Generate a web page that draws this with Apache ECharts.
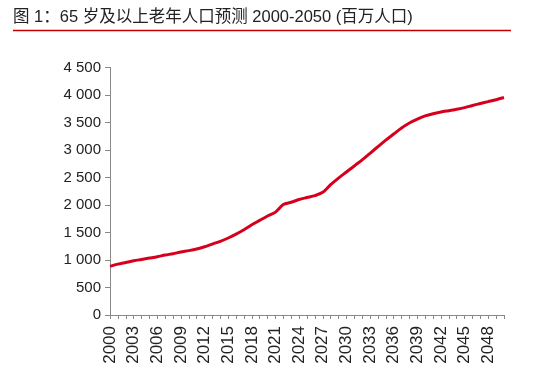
<!DOCTYPE html>
<html>
<head>
<meta charset="utf-8">
<script src="https://cdn.jsdelivr.net/npm/echarts@6/dist/echarts.min.js"></script>
<style>html,body{margin:0;padding:0;background:#fff}#c{width:560px;height:374px}</style>
</head>
<body>
<div id="c"></div>
<script>
var years = [];
for (var y = 2000; y <= 2050; y++) years.push(String(y));
var population = [
  885, 925, 955, 985, 1010, 1035, 1060, 1090, 1115, 1145,
  1170, 1200, 1240, 1290, 1340, 1400, 1470, 1550, 1640, 1720,
  1800, 1870, 2010, 2050, 2100, 2135, 2170, 2230, 2370, 2490,
  2600, 2710, 2820, 2940, 3060, 3180, 3290, 3400, 3490, 3560,
  3620, 3660, 3690, 3715, 3740, 3770, 3810, 3845, 3880, 3915,
  3955
];
var titleText = '图 1：65 岁及以上老年人口预测 2000-2050 (百万人口)';

var chart = echarts.init(document.getElementById('c'));
chart.setOption({
  animation: false,
  graphic: [
    { type: 'text', left: 13, top: 9, style: { text: titleText, font: '16.5px "Liberation Sans", "Noto Sans CJK SC", sans-serif', fill: '#222' } },
    { type: 'line', shape: { x1: 13, y1: 30.5, x2: 511, y2: 30.5 }, style: { stroke: '#c00000', lineWidth: 1.5 } }
  ],
  grid: { left: 110, right: 56, top: 67.5, bottom: 59 },
  xAxis: {
    type: 'category',
    data: years,
    boundaryGap: false,
    axisLine: { lineStyle: { color: '#888', width: 1 } },
    axisTick: { interval: 0, length: 4, lineStyle: { color: '#888' } },
    axisLabel: { interval: 2, rotate: 90, color: '#222', fontSize: 17, fontFamily: 'Liberation Sans', margin: 11 }
  },
  yAxis: {
    type: 'value',
    min: 0, max: 4500, interval: 500,
    axisLine: { show: true, lineStyle: { color: '#888', width: 1 } },
    axisTick: { show: true, length: 5, lineStyle: { color: '#888' } },
    splitLine: { show: false },
    axisLabel: {
      color: '#222', fontSize: 15, fontFamily: 'Liberation Sans', margin: 9,
      formatter: function (v) { return String(v).replace(/\B(?=(\d{3})+(?!\d))/g, ' '); }
    }
  },
  series: [{
    type: 'line',
    data: population,
    smooth: 0.3,
    showSymbol: false,
    lineStyle: { color: '#d6001c', width: 3 }
  }]
});
</script>
</body>
</html>
